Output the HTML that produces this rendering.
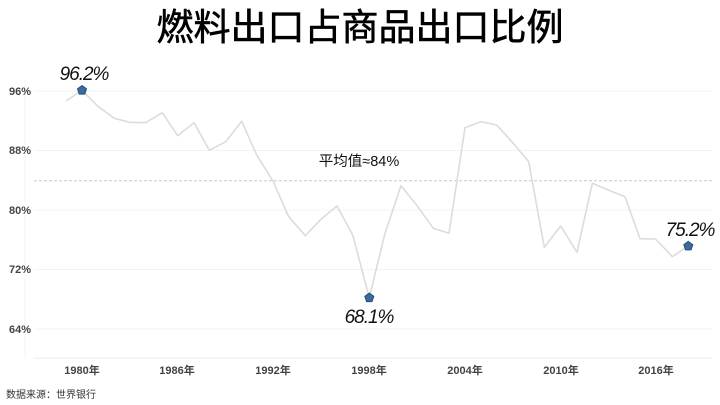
<!DOCTYPE html>
<html><head><meta charset="utf-8"><style>
html,body{margin:0;padding:0;background:#fff;width:720px;height:405px;overflow:hidden}
svg{display:block}
text{font-family:"Liberation Sans","Noto Sans CJK SC",sans-serif}
</style></head><body>
<svg width="720" height="405" viewBox="0 0 720 405" xmlns="http://www.w3.org/2000/svg">
<text x="360" y="40" text-anchor="middle" font-size="37" fill="#000" stroke="#000" stroke-width="0.6" style="font-family:'Noto Sans CJK SC',sans-serif">燃料出口占商品出口比例</text>
<g stroke="#f3f3f3" stroke-width="1">
<line x1="34" y1="91" x2="712" y2="91"/>
<line x1="34" y1="150.5" x2="712" y2="150.5"/>
<line x1="34" y1="210" x2="712" y2="210"/>
<line x1="34" y1="269.5" x2="712" y2="269.5"/>
<line x1="34" y1="329" x2="712" y2="329"/>
<line x1="34" y1="358" x2="712" y2="358" stroke="#eeeeee"/>
<line x1="25" y1="80" x2="25" y2="358"/>
</g>
<g font-size="11" font-weight="bold" fill="#444" text-anchor="end">
<text x="31" y="95">96%</text>
<text x="31" y="154">88%</text>
<text x="31" y="214">80%</text>
<text x="31" y="273">72%</text>
<text x="31" y="333">64%</text>
</g>
<g font-size="11" font-weight="bold" fill="#444" text-anchor="middle">
<text x="82" y="374">1980年</text>
<text x="177" y="374">1986年</text>
<text x="273" y="374">1992年</text>
<text x="369" y="374">1998年</text>
<text x="465" y="374">2004年</text>
<text x="561" y="374">2010年</text>
<text x="656" y="374">2016年</text>
</g>
<text x="6" y="398" font-size="10" fill="#333">数据来源：世界银行</text>
<line x1="34" y1="180.7" x2="712" y2="180.7" stroke="#c8c8c8" stroke-dasharray="3,2" stroke-width="1"/>
<text x="359" y="166" font-size="14.5" fill="#111" text-anchor="middle">平均值≈84%</text>
<polyline fill="none" stroke="#dcdcdc" stroke-width="1.6" stroke-linejoin="round" points="66,101 82,90.3 98.3,106.7 114.3,118.3 130,122.3 145.7,122.7 162.3,112.7 177.7,135.7 194,122.7 209.3,150.3 225.7,141.7 241.7,121.3 256.7,155 273.3,181.7 288.7,216.7 305.3,235.7 321,219.3 337,206 352.7,235 369.3,297.7 385,233.3 401,185.7 417.3,206 433.3,228.3 449,233.3 465,127.7 481,121.7 496.7,125 512.7,142.7 528.7,161.7 544.3,247.3 560.7,226 577,252.3 592.3,183.3 608.3,190 625,196.7 640,238.7 655.7,239 672.3,256.7 688.3,246"/>
<g fill="#3b6a9c" stroke="#25476e" stroke-width="0.8">
<polygon points="82,85.5 86.6,88.8 84.8,94.2 79.2,94.2 77.4,88.8"/>
<polygon points="369.3,293 373.9,296.3 372.1,301.7 366.5,301.7 364.7,296.3"/>
<polygon points="688.3,241.3 692.9,244.6 691.1,250 685.5,250 683.7,244.6"/>
</g>
<g font-size="19" fill="#111" text-anchor="middle" font-style="italic" letter-spacing="-1">
<text x="84" y="80">96.2%</text>
<text x="369" y="323">68.1%</text>
<text x="690" y="236">75.2%</text>
</g>
</svg>
</body></html>
